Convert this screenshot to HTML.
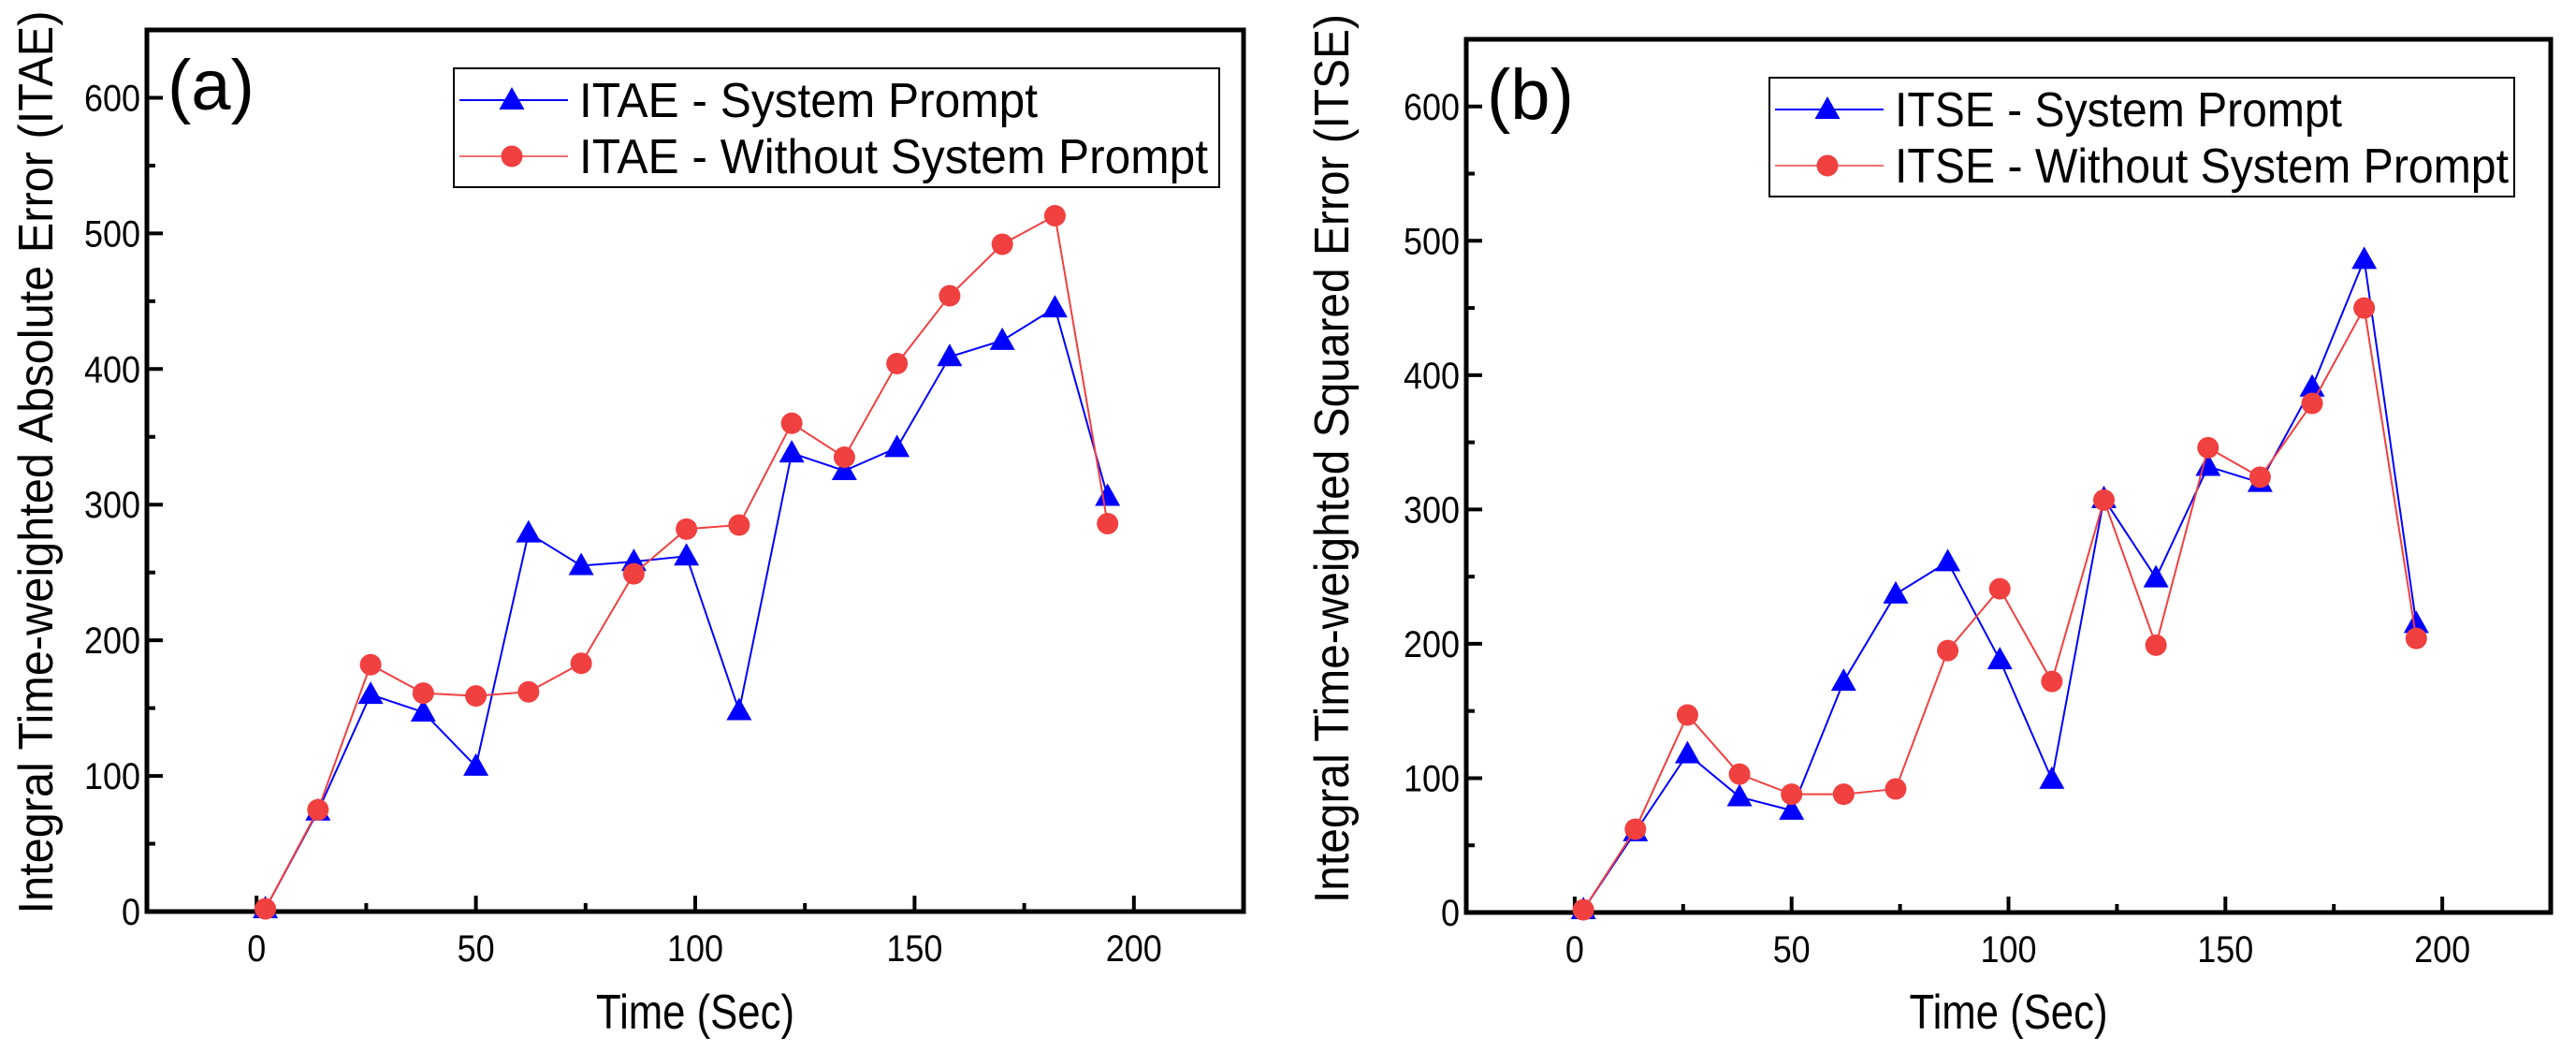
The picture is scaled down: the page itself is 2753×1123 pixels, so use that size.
<!DOCTYPE html>
<html><head><meta charset="utf-8"><style>
html,body{margin:0;padding:0;background:#fff;}
svg{display:block;font-family:"Liberation Sans",sans-serif;}
</style></head><body>
<svg id="fig" width="2753" height="1123" viewBox="0 0 2753 1123"></svg>
<script>
const times = [2,14,26,38,50,62,74,86,98,110,122,134,146,158,170,182,194];
const itaeSystem = [2,74,160,147,107,279,255,258,262,148,338,325,342,409,421,445,306];
const itaeWithout = [2,75,182,161,159,162,183,249,282,285,360,335,404,454,492,513,286];
const itseSystem = [2,60,118,86,76,172,237,261,188,99,308,249,332,320,391,486,215];
const itseWithout = [2,62,147,103,88,88,92,195,241,172,307,199,346,324,379,450,204];
const xTicks = [0,50,100,150,200];
const yTicks = [0,100,200,300,400,500,600];

const NS = "http://www.w3.org/2000/svg";
const svg = document.getElementById('fig');
function mk(tag, attrs, parent){
  const e = document.createElementNS(NS, tag);
  for (const k in attrs) e.setAttribute(k, attrs[k]);
  (parent||svg).appendChild(e);
  return e;
}

function drawPanel(cfg){
  const g = mk('g', {});
  
  
  const L=cfg.L, R=cfg.R, T=cfg.T, B=cfg.B;
  const xs = v => L + (v - (-25)) / 250 * (R - L);
  const ys = v => B - v / 650 * (B - T);
  for (let v = 0; v <= 200; v += 25) {
    const major = v % 50 === 0;
    const t = mk('line', {x1:xs(v), x2:xs(v), y1:B, y2:B-(major?17:9), stroke:'#000','stroke-width':4}, g);
    
    
  }
  xTicks.forEach(v => {
    const t = mk('text', {x:xs(v), y:B+53, 'font-size':40, 'text-anchor':'middle', fill:'#000', textLength:String(v).length*20, lengthAdjust:'spacingAndGlyphs'}, g);
    t.textContent = v;
    
    
  });
  for (let v = 50; v <= 650; v += 50) {
    const major = v % 100 === 0;
    const t = mk('line', {x1:L, x2:L+(major?17:9), y1:ys(v), y2:ys(v), stroke:'#000','stroke-width':4}, g);
    
    
  }
  yTicks.forEach(v => {
    const t = mk('text', {x:L-7, y:ys(v)+14, 'font-size':40, 'text-anchor':'end', fill:'#000', textLength:String(v).length*20, lengthAdjust:'spacingAndGlyphs'}, g);
    t.textContent = v;
    
    
  });
  const frame = mk('rect', {x:L, y:T, width:R-L, height:B-T, fill:'none', stroke:'#000', 'stroke-width':5}, g);
  
  

  const xt = mk('text', {x:(L+R)/2, y:1099, 'font-size':52, 'text-anchor':'middle', fill:'#000', textLength:212, lengthAdjust:'spacingAndGlyphs'}, g);
  xt.textContent = 'Time (Sec)';
  
  
  const yt = mk('text', {x:0, y:0, 'font-size':52, 'text-anchor':'middle', fill:'#000', textLength:cfg.ytl, lengthAdjust:'spacingAndGlyphs', transform:`translate(${cfg.ytx},${cfg.yty}) rotate(-90)`}, g);
  yt.textContent = cfg.ytitle;
  
  
  const pl = mk('text', {x:L+22, y:T+85, 'font-size':76, fill:'#000'}, g);
  pl.textContent = cfg.panel;
  
  

  function tri(x, y, parent){
    return mk('polygon', {points:`${x},${y-14} ${x-13.5},${y+10} ${x+13.5},${y+10}`, fill:'#0000ff'}, parent);
  }
  function series(vals, color, kind, nm){
    const sg = mk('g', {}, g);
    
    
    const pts = times.map((t,i)=>xs(t)+','+ys(vals[i])).join(' ');
    const ln = mk('polyline', {points:pts, fill:'none', stroke:color, 'stroke-width':2}, sg);
    
    
    times.forEach((t,i)=>{
      let m;
      if (kind==='tri') m = tri(xs(t), ys(vals[i]), sg);
      else m = mk('circle', {cx:xs(t), cy:ys(vals[i]), r:11.5, fill:color}, sg);
      
      
    });
  }
  series(cfg.sys, '#0000ff', 'tri', 'series-system-prompt');
  series(cfg.wo, '#f04040', 'circ', 'series-without-system-prompt');

  const lg = mk('g', {}, g);
  
  
  const box = mk('rect', {x:cfg.lx, y:cfg.ly, width:cfg.lw, height:127, fill:'#fff', stroke:'#000', 'stroke-width':2}, lg);
  
  
  const rows = [[cfg.labels[0],'#0000ff','tri',34,cfg.tl[0]],[cfg.labels[1],'#f04040','circ',94,cfg.tl[1]]];
  rows.forEach(r=>{
    const y = cfg.ly + r[3];
    const e = mk('g', {}, lg);
    
    
    mk('line', {x1:cfg.lx+6, x2:cfg.lx+122, y1:y, y2:y, stroke:r[1], 'stroke-width':r[2]==='tri'?2:1.5}, e);
    if (r[2]==='tri') tri(cfg.lx+62, y, e);
    else mk('circle', {cx:cfg.lx+62, cy:y, r:11.5, fill:r[1]}, e);
    const t = mk('text', {x:cfg.lx+134, y:y+18, 'font-size':52, fill:'#000', textLength:r[4], lengthAdjust:'spacingAndGlyphs'}, e);
    t.textContent = r[0];
  });
}

drawPanel({name:'chart-itae', L:157, R:1329, T:32, B:974, ytx:56, yty:494, ytl:965, ytitle:'Integral Time-weighted Absolute Error (ITAE)', panel:'(a)',
  sys:itaeSystem, wo:itaeWithout, lx:485, ly:73, lw:818, tl:[490,672], labels:['ITAE - System Prompt','ITAE - Without System Prompt']});
drawPanel({name:'chart-itse', L:1567, R:2726, T:42, B:975, ytx:1441, yty:490, ytl:950, ytitle:'Integral Time-weighted Squared Error (ITSE)', panel:'(b)',
  sys:itseSystem, wo:itseWithout, lx:1891, ly:83, lw:796, tl:[478,656], labels:['ITSE - System Prompt','ITSE - Without System Prompt']});
</script>
</body></html>
